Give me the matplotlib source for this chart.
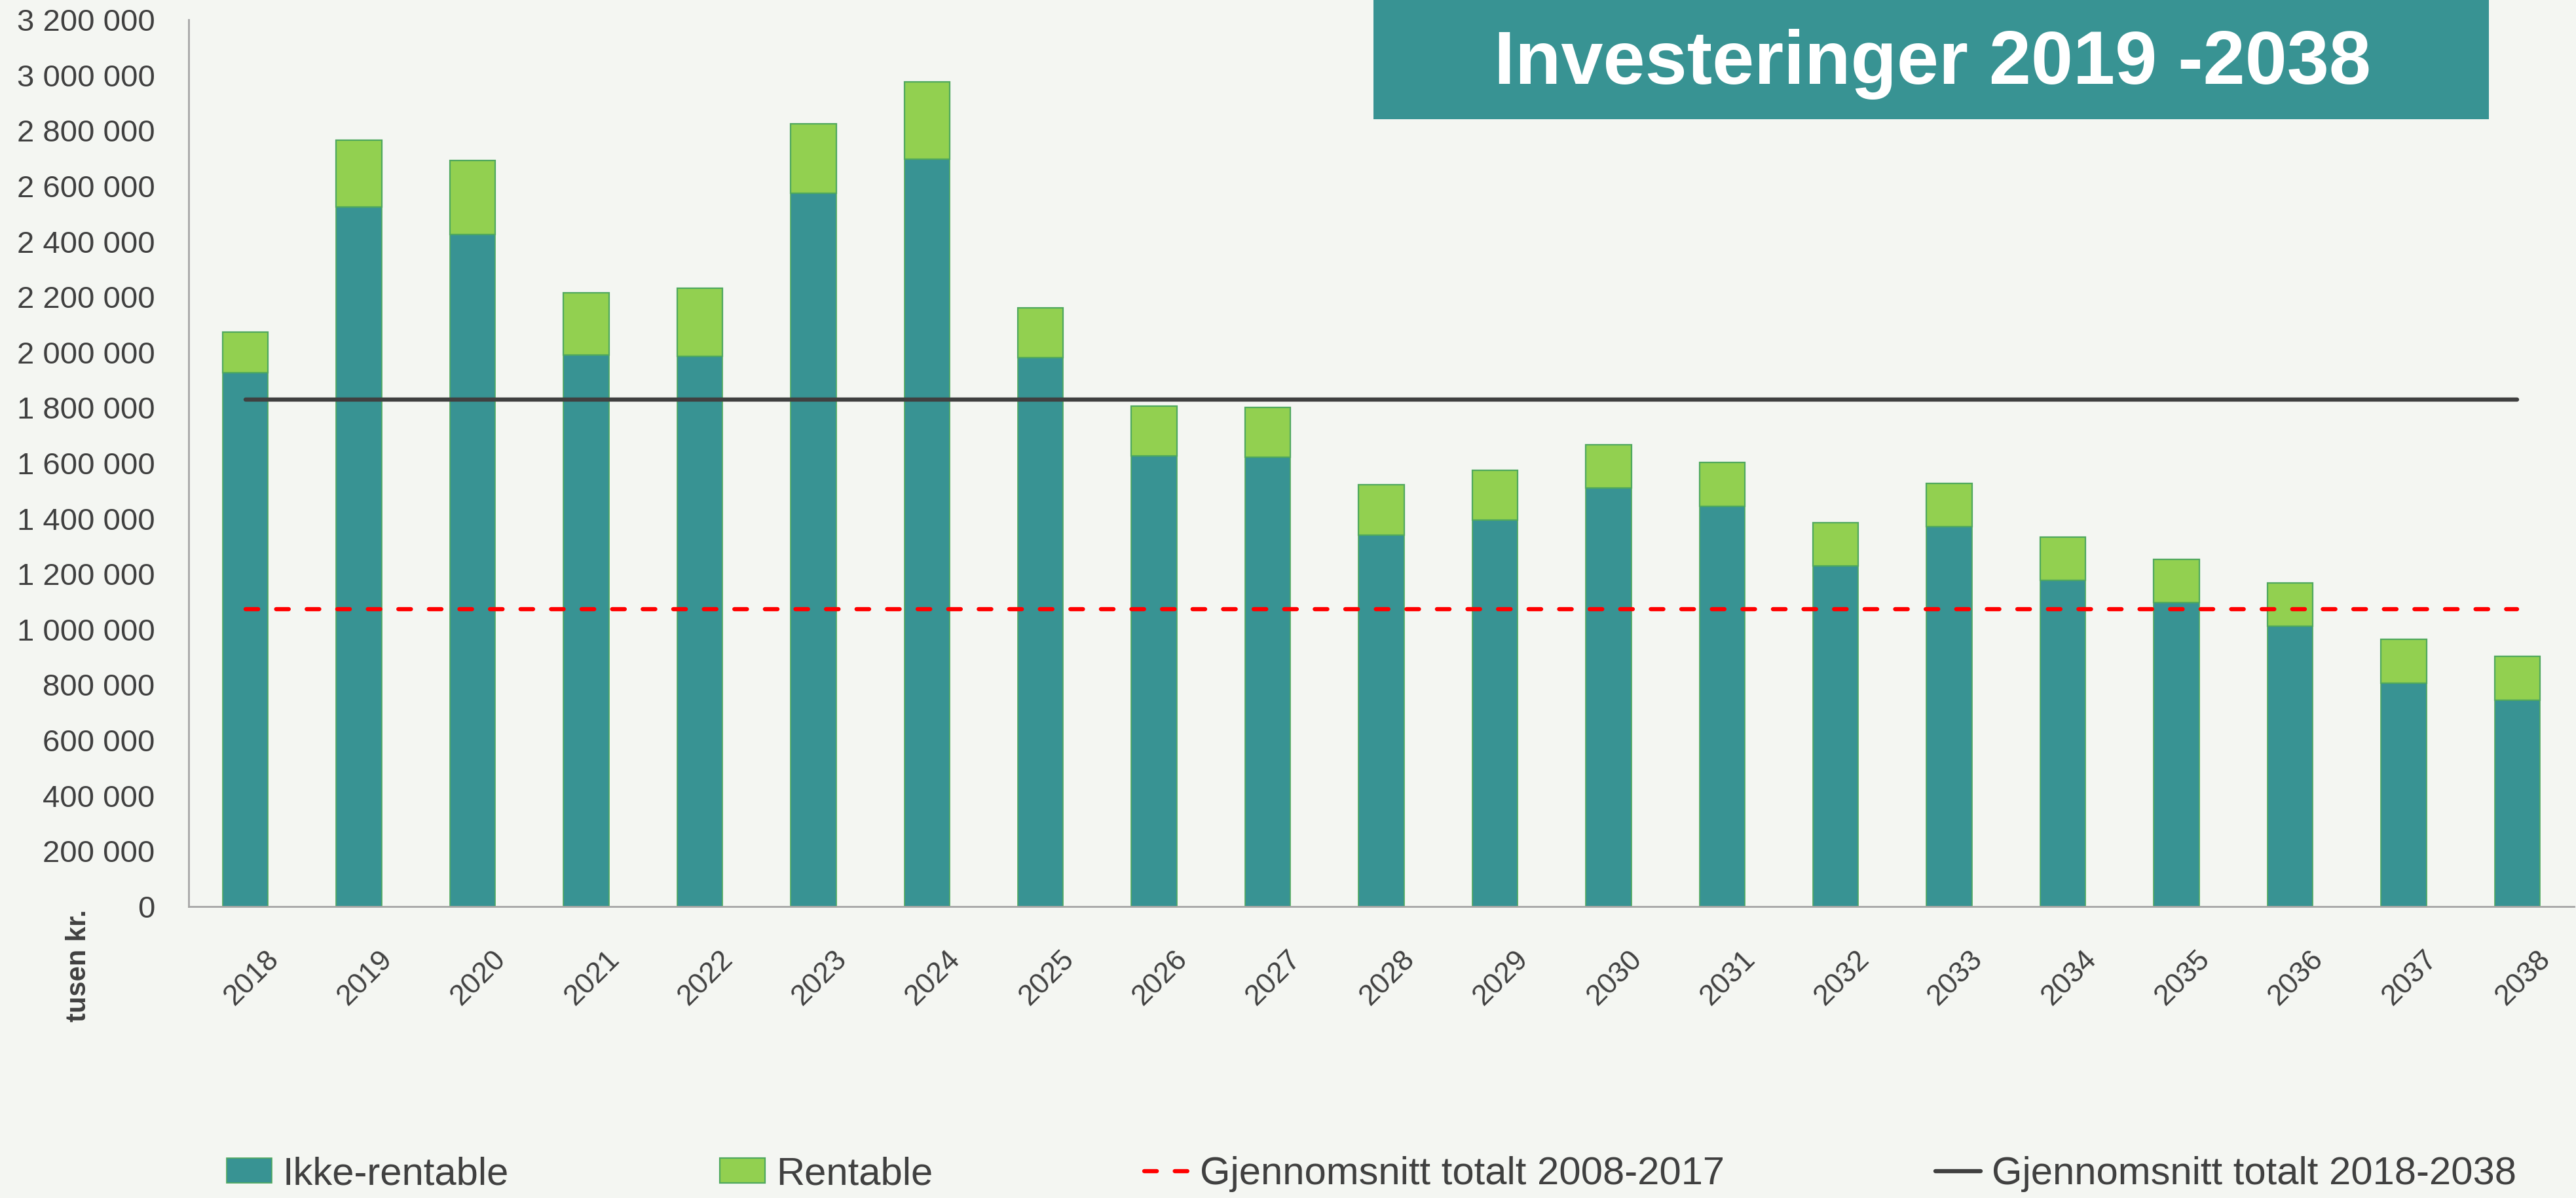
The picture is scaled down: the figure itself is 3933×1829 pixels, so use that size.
import matplotlib
matplotlib.use("Agg")
import matplotlib.pyplot as plt
from matplotlib.patches import Rectangle
from matplotlib.ticker import FuncFormatter, MultipleLocator
import matplotlib.transforms as mtransforms
import numpy as np

plt.rcParams['font.family'] = ['Liberation Sans', 'DejaVu Sans']

# ---- data (tusen kr.) ----
years = [str(y) for y in range(2018, 2039)]
ikke_rentable = [1927000, 2525000, 2425000, 1991000, 1986000, 2573000, 2697000,
                 1980000, 1625000, 1621000, 1340000, 1394000, 1511000, 1444000,
                 1230000, 1370000, 1176000, 1097000, 1011000, 806000, 745000]
rentable = [145000, 240000, 266000, 224000, 246000, 252000, 278000,
            181000, 181000, 181000, 183000, 181000, 156000, 159000,
            155000, 156000, 158000, 156000, 157000, 158000, 157000]
avg_2008_2017 = 1073000
avg_2018_2038 = 1830000

title = "Investeringer 2019 -2038"
ylabel = "tusen kr."
labels = ["Ikke-rentable", "Rentable",
          "Gjennomsnitt totalt 2008-2017", "Gjennomsnitt totalt 2018-2038"]

# ---- style ----
BG = "#f4f6f2"
TEAL = "#389393"
LGREEN = "#92d050"
EDGE = "#4fa85e"
TXT = "#404040"

W, H = 3933, 1829
fig = plt.figure(figsize=(W / 100, H / 100), dpi=100, facecolor=BG)
ax = fig.add_axes([288 / W, 1 - 1384 / H, (3930 - 288) / W, (1384 - 30) / H])
ax.set_facecolor("none")

x = np.arange(len(years))
bw = 0.40
b1 = ax.bar(x, ikke_rentable, bw, color=TEAL, edgecolor=EDGE, linewidth=1.2,
            label=labels[0], zorder=2)
b2 = ax.bar(x, rentable, bw, bottom=ikke_rentable, color=LGREEN, edgecolor=EDGE,
            linewidth=1.6, label=labels[1], zorder=2)

l1, = ax.plot([x[0], x[-1]], [avg_2008_2017] * 2, color="#ff0000", lw=4.6,
              dashes=(3, 4.3), dash_capstyle="round", label=labels[2], zorder=3)
l2, = ax.plot([x[0], x[-1]], [avg_2018_2038] * 2, color=TXT, lw=4.6,
              solid_capstyle="round", label=labels[3], zorder=3)

ax.set_xlim(-0.5, len(years) - 0.5)
ax.set_ylim(0, 3200000)
ax.yaxis.set_major_locator(MultipleLocator(200000))
ax.yaxis.set_major_formatter(FuncFormatter(lambda v, p: f"{int(round(v)):,}".replace(",", " ")))

ax.set_xticks(x)
ax.set_xticklabels(years, rotation=45, ha="right", va="top", rotation_mode="anchor")
ax.tick_params(axis="x", length=0, pad=34, labelsize=32, colors=TXT)
ax.tick_params(axis="y", length=0, pad=37, labelsize=34, colors=TXT)
offset = mtransforms.ScaledTranslation(0.30, -0.12, fig.dpi_scale_trans)
for lbl in ax.get_xticklabels():
    lbl.set_transform(lbl.get_transform() + offset)

for s in ["top", "right"]:
    ax.spines[s].set_visible(False)
for s in ["left", "bottom"]:
    ax.spines[s].set_color("#a6a6a6")
    ax.spines[s].set_linewidth(2)

# y label (placed below the axis on the left, like the original)
fig.text(120 / W, 1 - 1474 / H, ylabel, rotation=90, ha="center", va="center",
         fontsize=30, fontweight="bold", color=TXT)

# title box
fig.patches.append(Rectangle((2097 / W, 1 - 182 / H), (3800 - 2097) / W, 182 / H + 0.01,
                             transform=fig.transFigure, facecolor=TEAL, edgecolor="none",
                             zorder=5))
fig.text(2950 / W, 1 - 128 / H, title, ha="center", va="baseline", fontsize=83,
         fontweight="bold", color="white", zorder=6)

# legend
fig.legend(handles=[b1, b2, l1, l2], labels=labels, loc="center",
           bbox_to_anchor=(2094 / W, 1 - 1793 / H), ncol=4, frameon=False,
           fontsize=43, labelcolor=TXT, columnspacing=5.4, handlelength=1.15,
           handletextpad=0.28, borderpad=0, handleheight=0.6)

fig.savefig("out.png", dpi=100, facecolor=BG)
